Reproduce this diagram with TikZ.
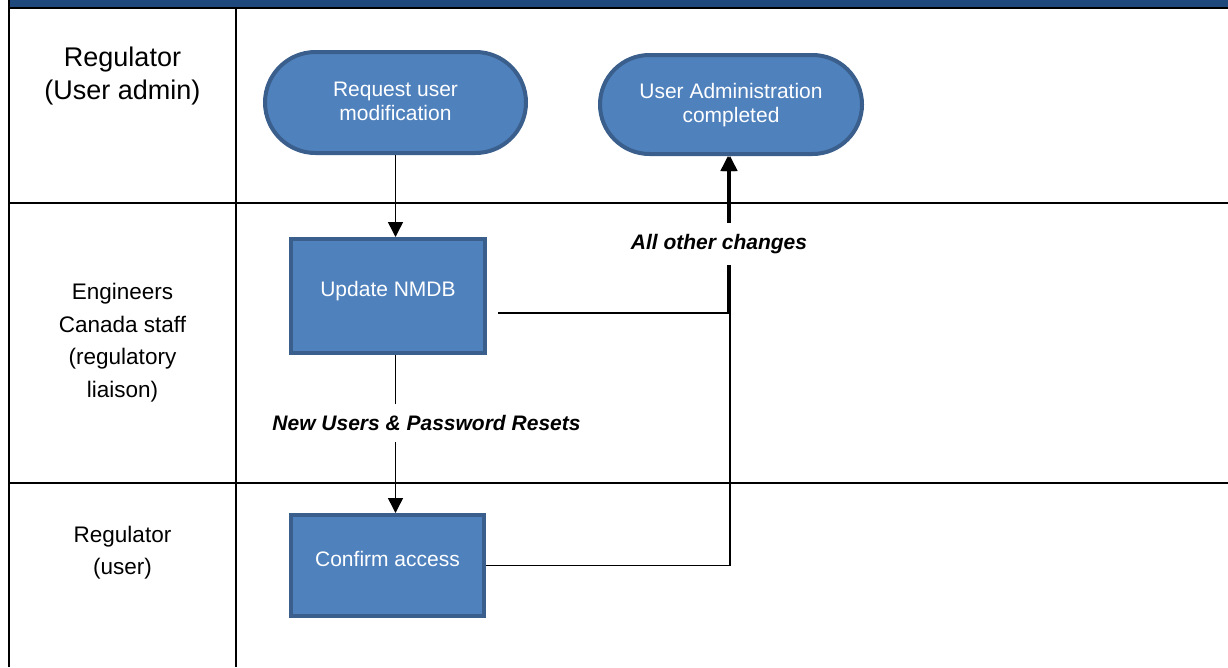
\documentclass[tikz,border=0pt]{standalone}
\usepackage{fontspec}
\setmainfont{Liberation Sans}
\usetikzlibrary{shapes.misc,arrows.meta}

\definecolor{boxfill}{HTML}{4F81BD}
\definecolor{boxline}{HTML}{3A5F8C}
\definecolor{headbar}{HTML}{1F497D}

\tikzset{
  lanetext/.style={align=center, font=\fontsize{22.5}{32.5}\selectfont},
  procbox/.style={draw=boxline, fill=boxfill, line width=4pt, text=white,
    inner sep=0pt, text depth=14pt, font=\fontsize{21}{24}\selectfont},
  termbox/.style={rounded rectangle, draw=boxline, fill=boxfill, line width=4pt,
    text=white, inner sep=0pt, align=center, text depth=3pt,
    font=\fontsize{21}{24}\selectfont},
  flow/.style={line width=1.5pt, -{Triangle[width=15pt,length=15pt]}},
  flowlabel/.style={fill=white, inner xsep=0pt, inner ysep=11pt,
    font=\fontsize{21}{24}\selectfont\bfseries\itshape},
}

\begin{document}
\begin{tikzpicture}[x=1pt, y=-1pt]

    \useasboundingbox (0,0) rectangle (1228,667);

    % lanes
    \fill[headbar] (10,0) rectangle (1228,7);
    \draw[line width=2pt] (9,7.7) -- (1228,7.7);
    \draw[line width=2.6pt] (9,0) -- (9,667);
    \draw[line width=2.6pt] (236,7.7) -- (236,667);
    \draw[line width=2.5pt] (9,203) -- (1228,203);
    \draw[line width=2.5pt] (9,483) -- (1228,483);

    \node[lanetext, font=\fontsize{27}{33}\selectfont] (laneadmin) at (122.5,76.5) {Regulator\\(User admin)};
    \node[lanetext] (lanestaff) at (122.5,342.6) {Engineers\\Canada staff\\(regulatory\\liaison)};
    \node[lanetext] (laneuser) at (122.5,552.6) {Regulator\\(user)};

    % steps
    \node[termbox, minimum width=261pt, minimum height=101pt] (request) at (395.5,102.5) {Request user\\modification};
    \node[termbox, minimum width=262pt, minimum height=99pt] (done) at (731,104.5) {User Administration\\completed};
    \node[procbox, minimum width=194pt, minimum height=114pt] (update) at (388,296) {Update NMDB};
    \node[procbox, minimum width=193pt, minimum height=101pt] (confirm) at (387.5,565.5) {Confirm access};

    % flows
    \coordinate (updout) at (498,313);
    \draw[flow] (request.south) -- (request.south |- update.north);
    \draw[flow] (request.south |- update.south) -- (request.south |- confirm.north);
    \node[flowlabel] (newlbl) at (426.5,423) {New Users \& Password Resets};
    \draw[flow] (updout) -| ([xshift=-3pt]done.south);
    \draw[flow] (confirm.east) -| ([xshift=-1pt]done.south);
    \node[flowlabel] (otherlbl) at (719,244) {All other changes};

\end{tikzpicture}
\end{document}
